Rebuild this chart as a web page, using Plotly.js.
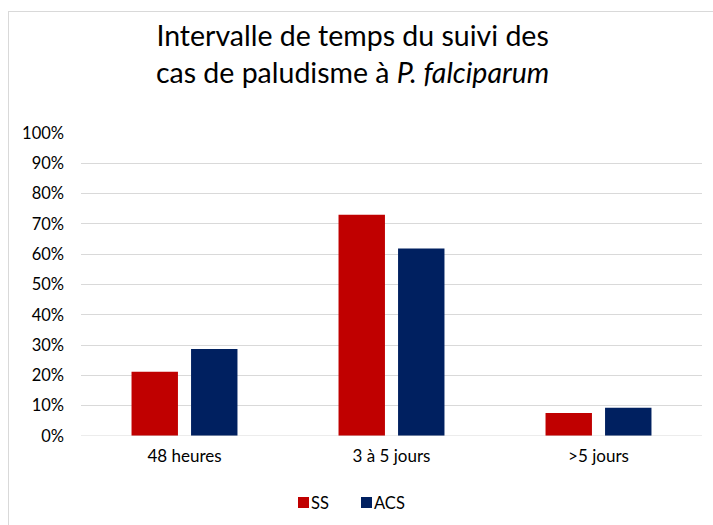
<!DOCTYPE html>
<html>
<head>
<meta charset="utf-8">
<script src="https://cdn.plot.ly/plotly-3.0.1.min.js"></script>
<style>
  html, body { margin: 0; padding: 0; background: #fff; overflow: hidden; }
  #frame { position: absolute; left: 8px; top: 11px; width: 740px; height: 560px; border: 1px solid #d9d9d9; box-sizing: border-box; }
  #chart { position: absolute; left: 0; top: 0; width: 713px; height: 525px; }
</style>
</head>
<body>
<div id="frame"></div>
<div id="chart"></div>
<script>
const categories = ["48 heures", "3 à 5 jours", ">5 jours"];
const seriesNames = ["SS", "ACS"];
const seriesColors = ["#C00000", "#002060"];
const ssValues = [0.212, 0.73, 0.076];
const acsValues = [0.287, 0.619, 0.093];
const tickValues = [0, 0.1, 0.2, 0.3, 0.4, 0.5, 0.6, 0.7, 0.8, 0.9, 1.0];
const tickLabels = ["0%", "10%", "20%", "30%", "40%", "50%", "60%", "70%", "80%", "90%", "100%"];

const FONT = "Lato, 'Open Sans', sans-serif";

// plot area in pixels (for placing the hand-made legend)
const W = 713, H = 525, ML = 81, MR = 11, MT = 133, MB = 89;
const PW = W - ML - MR, PH = H - MT - MB;
const px = v => (v - ML) / PW;
const py = v => (H - MB - v) / PH;

const traces = [
  { type: "bar", name: seriesNames[0], x: categories, y: ssValues,
    marker: { color: seriesColors[0], line: { width: 0 } }, hoverinfo: "skip" },
  { type: "bar", name: seriesNames[1], x: categories, y: acsValues,
    marker: { color: seriesColors[1], line: { width: 0 } }, hoverinfo: "skip" }
];

// legend: squares + labels
const legendSquares = [298, 361];
const legendText = [310, 373];
const shapes = [
  { type: "line", xref: "paper", yref: "y", x0: 0, x1: 1, y0: 0, y1: 0,
    line: { color: "#d9d9d9", width: 1 } }
];
const annotations = [];
seriesNames.forEach((n, i) => {
  shapes.push({ type: "rect", xref: "paper", yref: "paper",
    x0: px(legendSquares[i]), x1: px(legendSquares[i] + 11),
    y0: py(508), y1: py(497),
    fillcolor: seriesColors[i], line: { width: 0 } });
  annotations.push({ xref: "paper", yref: "paper", x: px(legendText[i]), y: py(502.5),
    xanchor: "left", yanchor: "middle", showarrow: false, borderpad: 0,
    text: n, font: { family: FONT, size: 16.5, color: "#000" } });
});

const layout = {
  width: W, height: H,
  paper_bgcolor: "rgba(0,0,0,0)", plot_bgcolor: "rgba(0,0,0,0)",
  margin: { l: ML, r: MR, t: MT, b: MB },
  font: { family: FONT, color: "#000", size: 16 },
  title: {
    text: "Intervalle de temps du suivi des<br>cas de paludisme à <i>P. falciparum</i>",
    font: { family: FONT, size: 28.5, color: "#000" },
    x: 0.4945, xanchor: "center", xref: "container",
    y: 1 - 46 / 525, yanchor: "top", yref: "container"
  },
  barmode: "group",
  bargap: 0.425,
  bargroupgap: 0.22,
  xaxis: {
    type: "category",
    showgrid: false, zeroline: false,
    showline: false, ticks: "",
    tickfont: { family: FONT, size: 17, color: "#000" },
    ticklabelstandoff: 8
  },
  yaxis: {
    range: [0, 1],
    tickvals: tickValues, ticktext: tickLabels,
    showgrid: true, gridcolor: "#d9d9d9", gridwidth: 1,
    zeroline: false, showline: false, ticks: "",
    tickfont: { family: FONT, size: 16.5, color: "#000" },
    ticklabelstandoff: 16
  },
  showlegend: false,
  shapes: shapes,
  annotations: annotations
};

Plotly.newPlot("chart", traces, layout, { displayModeBar: false, staticPlot: true });
</script>
</body>
</html>
